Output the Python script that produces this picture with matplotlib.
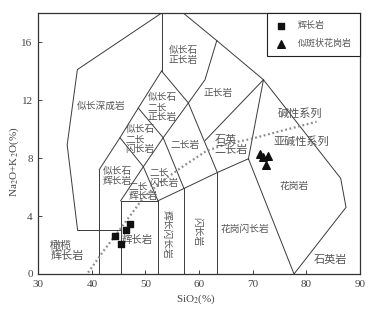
import matplotlib
matplotlib.use('Agg')
import matplotlib.pyplot as plt

plt.rcParams['font.family'] = ['Liberation Serif', 'Noto Sans CJK SC', 'DejaVu Sans']
plt.rcParams['mathtext.fontset'] = 'stix'

cjk = ['Noto Sans CJK SC', 'DejaVu Sans']

# sample data
gabbro_sio2 = [44.3, 45.4, 46.3, 47.2]
gabbro_alk = [2.63, 2.1, 3.05, 3.46]
granite_sio2 = [71.4, 72.0, 72.8, 72.4]
granite_alk = [8.25, 8.05, 8.15, 7.5]

# Irvine & Baragar alkaline / subalkaline divide
divide_x = [39.3, 42.5, 45.9, 49.6, 52.7, 56.7, 61.4, 65.5, 69.5, 75.1, 81.9]
divide_y = [0.1, 1.75, 3.4, 5.25, 6.3, 7.35, 8.5, 9.0, 9.3, 9.85, 10.5]

# field boundaries (TAS plutonic)
boundaries = [
    [(53.0, 18.0), (37.3, 14.1), (35.4, 8.9), (37.35, 3.0), (45.37, 3.0)],
    [(41.38, 0.0), (41.38, 7.2)],
    [(41.38, 7.2), (45.24, 9.4), (48.66, 11.45), (53.0, 14.0)],
    [(53.0, 14.0), (53.0, 18.0)],
    [(53.0, 14.0), (58.0, 11.8), (63.4, 7.0)],
    [(45.24, 9.4), (49.6, 7.4), (52.33, 5.05)],
    [(48.66, 11.45), (53.3, 9.4), (57.18, 5.9)],
    [(45.37, 5.05), (49.6, 7.4), (53.3, 9.4), (58.0, 11.8), (61.1, 13.4), (63.3, 16.1)],
    [(45.37, 0.0), (45.37, 5.05), (52.33, 5.05), (52.33, 0.0)],
    [(52.33, 5.05), (57.18, 5.9), (63.4, 7.0), (69.2, 7.95)],
    [(57.18, 0.0), (57.18, 5.9)],
    [(63.4, 0.0), (63.4, 7.0)],
    [(69.2, 7.95), (77.7, 0.0), (87.4, 4.6), (86.4, 6.6), (72.0, 13.4), (69.2, 7.95)],
    [(57.05, 18.0), (63.3, 16.1), (72.0, 13.4)],
    [(72.0, 13.4), (61.1, 9.2)],
]

# field names: text, x, y, size, rotation, horizontal alignment
field_names = [
    ('似长深成岩', 41.8, 11.6, 7, 0, 'center'),
    ('似长石\n正长岩', 57.0, 15.1, 7, 0, 'center'),
    ('似长石\n二长\n正长岩', 50.4, 11.5, 7, 0, 'left'),
    ('似长石\n二长\n闪长岩', 46.3, 9.28, 7, 0, 'left'),
    ('二长岩', 57.4, 8.93, 7, 0, 'center'),
    ('正长岩', 63.5, 12.5, 7, 0, 'center'),
    ('石英\n二长岩', 62.9, 8.88, 8, 0, 'left'),
    ('碱性系列', 78.8, 11.1, 8, 0, 'center'),
    ('亚碱性系列', 79.1, 9.16, 8, 0, 'center'),
    ('花岗岩', 77.7, 6.1, 7, 0, 'center'),
    ('花岗闪长岩', 68.55, 3.1, 7, 0, 'center'),
    ('闪长岩', 59.7, 2.9, 7, -90, 'center'),
    ('辉长闪长岩', 54.0, 2.75, 7, -90, 'center'),
    ('辉长岩', 48.5, 2.35, 7.5, 0, 'center'),
    ('似长石\n辉长岩', 42.0, 6.74, 7, 0, 'left'),
    ('二长\n辉长岩', 46.9, 5.7, 7, 0, 'left'),
    ('二长\n闪长岩', 50.7, 6.65, 7, 0, 'left'),
    ('橄榄\n辉长岩', 35.35, 1.6, 8, 0, 'center'),
    ('石英岩', 84.4, 0.97, 8, 0, 'center'),
]

fig = plt.figure(figsize=(3.9, 3.11), dpi=100)
ax = fig.add_axes([0.098, 0.119, 0.825, 0.839])

for line in boundaries:
    xs = [p[0] for p in line]
    ys = [p[1] for p in line]
    ax.plot(xs, ys, color='#3a3a3a', lw=0.7, zorder=2)

ax.plot(divide_x, divide_y, color='#8a8a8a', lw=1.6, ls=(0, (0.8, 1.2)), zorder=2)

for txt, x, y, size, rot, ha in field_names:
    ax.text(x, y, txt, fontsize=size, color='#555555', family=cjk, ha=ha, va='center',
            rotation=rot, multialignment='left', linespacing=1.0, zorder=3)

ax.scatter(gabbro_sio2, gabbro_alk, marker='s', s=20, color='#111111', zorder=4, label='辉长岩')
ax.scatter(granite_sio2, granite_alk, marker='^', s=30, color='#111111', zorder=4, label='似斑状花岗岩')

ax.set_xlim(30, 90)
ax.set_ylim(0, 18)
ax.set_xticks([30, 40, 50, 60, 70, 80, 90])
ax.set_yticks([0, 4, 8, 12, 16])
ax.tick_params(direction='in', length=3, width=0.7, labelsize=8, colors='#444444', pad=4)
for s in ax.spines.values():
    s.set_linewidth(0.9)
    s.set_color('#333333')

ax.set_xlabel('SiO$_2$(%)', fontsize=8, color='#444444')
ax.set_ylabel('Na$_2$O+K$_2$O(%)', fontsize=8, color='#444444')
ax.yaxis.set_label_coords(-0.055, 0.43)
ax.xaxis.set_label_coords(0.49, -0.07)

leg = ax.legend(loc='upper right', borderaxespad=0, fancybox=False, edgecolor='#222222',
                prop={'family': cjk, 'size': 6.5}, handletextpad=1.3, labelspacing=1.0,
                borderpad=0.9, handlelength=1.2, framealpha=1)
leg.get_frame().set_linewidth(0.8)
for t in leg.get_texts():
    t.set_color('#555555')

fig.savefig('out.png', dpi=100)
